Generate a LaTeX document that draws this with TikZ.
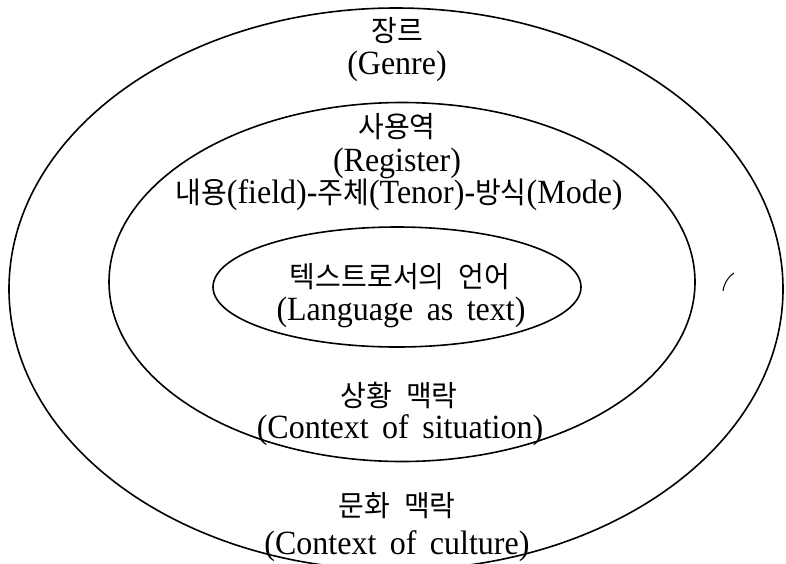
\documentclass[tikz,border=0pt]{standalone}
\usepackage{graphicx}
\usepackage{fontspec}
\setmainfont{Liberation Serif}
\newfontfamily\kr{Noto Sans CJK KR}
\usetikzlibrary{shapes.geometric}
\newcommand\enT[1]{\scalebox{1}[1.06]{\fontsize{32}{36}\selectfont\spaceskip=0.42em plus 0.1em\relax #1}}
\newcommand\koT[1]{\scalebox{1}[1.04]{\kr\fontsize{28}{32}\selectfont\spaceskip=0.5em plus 0.1em\relax #1}}
\newcommand\koI[1]{{\kr\fontsize{28}{32}\selectfont #1}}
\tikzset{
  ring/.style={draw, ellipse, line width=1.6pt, inner sep=0pt},
  lbl/.style={inner sep=0pt},
}
\begin{document}
\begin{tikzpicture}[x=1pt,y=-1pt]
\useasboundingbox (0,0) rectangle (786,563);
\node[ring, minimum width=774pt, minimum height=562pt] (outer) at (396,289) {};
\node[ring, minimum width=586pt, minimum height=359pt] (middle) at (402,282) {};
\node[ring, minimum width=368pt, minimum height=120pt] (inner) at (397,287) {};
% outer ring texts
\node[lbl] (genreKo) at (397,31) {\koT{장르}};
\node[lbl] (genreEn) at (397,66) {\enT{(Genre)}};
\node[lbl] (cultKo) at (397,506) {\koT{문화 맥락}};
\node[lbl] (cultEn) at (397,546) {\enT{(Context of culture)}};
% middle ring texts
\node[lbl] (regKo) at (397,127) {\koT{사용역}};
\node[lbl] (regEn) at (397,163) {\enT{(Register)}};
\node[lbl] (fieldLine) at (399,195) {\enT{\koI{내용}(field)-\koI{주체}(Tenor)-\koI{방식}(Mode)}};
\node[lbl] (sitKo) at (399,395) {\koT{상황 맥락}};
\node[lbl] (sitEn) at (400,430) {\enT{(Context of situation)}};
% inner texts
\node[lbl] (langKo) at (400,277) {\koT{텍스트로서의 언어}};
\node[lbl] (langEn) at (401,312) {\enT{(Language as text)}};
% small stray arc on the right
\coordinate (s1) at (723,291);
\coordinate (s2) at (734,273);
\draw[line width=1pt] (s1) .. controls (724,283) and (729,276) .. (s2);
\end{tikzpicture}
\end{document}
